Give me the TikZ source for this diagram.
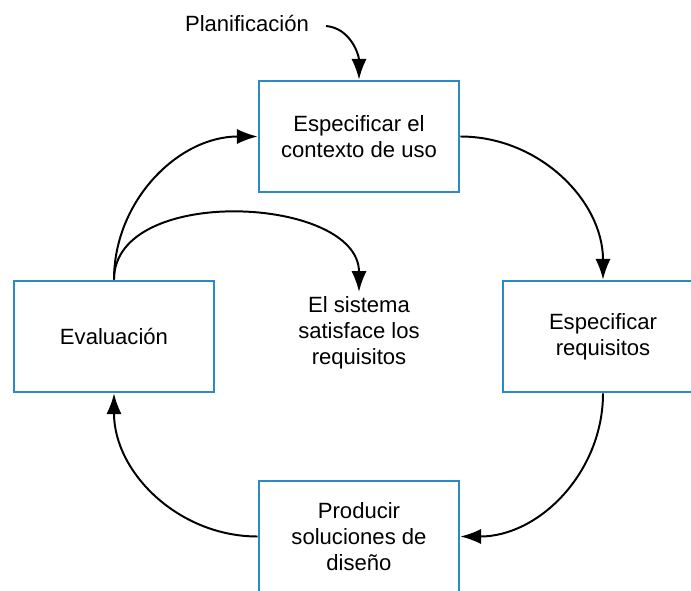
\documentclass[tikz,border=0pt]{standalone}
\usepackage{fontspec}
\setmainfont{Liberation Sans}
\usetikzlibrary{arrows.meta}
\definecolor{boxblue}{RGB}{42,138,196}

\begin{document}
\begin{tikzpicture}[x=0.025cm, y=-0.025cm,
	every node/.style={font=\fontsize{15.7}{18.4}\selectfont, align=center},
	etapa/.style={draw=boxblue, line width=1.9pt, minimum width=5cm, minimum height=2.775cm},
	flecha/.style={-{Latex[length=5.2mm, width=3.8mm]}, line width=1.4pt}]
	\useasboundingbox (0, 0) rectangle (691, 591);

	\node [etapa] (contexto) at (359, 136.5) {Especificar el\\contexto de uso};
	\node [etapa] (requisitos) at (603, 336.5) {Especificar\\requisitos};
	\node [etapa] (diseno) at (359, 536.5) {Producir\\soluciones de\\dise\~no};
	\node [etapa] (evaluacion) at (114, 336.5) {Evaluaci\'on};

	\node (satisface) at (359, 333) {El sistema\\satisface los\\requisitos};
	\node (plan) at (247, 23) {Planificaci\'on};
	\coordinate (planfin) at (326, 26);

	% ciclo
	\draw [flecha] (planfin) to [out=-5, in=90] (contexto.north);
	\draw [flecha] (contexto.east) to [out=0, in=90] (requisitos.north);
	\draw [flecha] (requisitos.south) to [out=-90, in=0] (diseno.east);
	\draw [flecha] (diseno.west) to [out=180, in=-90] (evaluacion.south);
	\draw [flecha] (evaluacion.north) to [out=90, in=180] (contexto.west);
	\draw [flecha] (evaluacion.north) to [out=90, in=90] (satisface.north);

\end{tikzpicture}
\end{document}
